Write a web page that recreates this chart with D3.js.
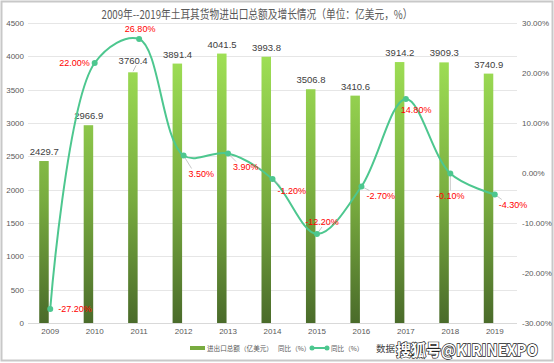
<!DOCTYPE html>
<html><head><meta charset="utf-8">
<script src="https://cdn.jsdelivr.net/npm/d3@7/dist/d3.min.js"></script>
<style>
body{margin:0;background:#fff;}
svg{display:block;font-family:"Noto Sans CJK SC","Liberation Sans",Arial,sans-serif;}
</style></head>
<body><svg id="c" width="554" height="363"></svg>
<script>
const years = ["2009","2010","2011","2012","2013","2014","2015","2016","2017","2018","2019"];
const totals = [2429.7,2966.9,3760.4,3891.4,4041.5,3993.8,3506.8,3410.6,3914.2,3909.3,3740.9];
const growth = [-27.2,22.0,26.8,3.5,3.9,-1.2,-12.2,-2.7,14.8,-0.1,-4.3];
const leftTicks = [0,500,1000,1500,2000,2500,3000,3500,4000,4500];
const rightTicks = [-30,-20,-10,0,10,20,30];
const title = "2009年--2019年土耳其货物进出口总额及增长情况（单位：亿美元，%）";
// label placement offsets (dx, dy, anchor, leader)
const pctLabelPos = [[8,3,"start",0],[-5,3,"end",0],[1,-7,"middle",0],[5,21,"start",1],[5,16,"start",1],[5,15,"start",1],[5,-9,"middle",1],[5,12,"start",1],[-5,14,"start",0],[0,25,"middle",1],[4,13,"start",1]];
const barLabelDy = [-6,-6,-8,-6,-6,-6,-6,-6,-6,-6,-6];

const svg = d3.select("#c");
const W = 554, H = 363;
const L = 28, R = 517, T = 23, B = 323;

svg.append("rect").attr("x",1.5).attr("y",1.5).attr("width",W-3).attr("height",H-4)
  .attr("fill","#fff").attr("stroke","#c8c8c8").attr("stroke-width",2);

const x = d3.scaleBand().domain(years).range([L,R]);
const y = d3.scaleLinear().domain([0,4500]).range([B,T]);
const y2 = d3.scaleLinear().domain([-30,30]).range([B,T]);

const defs = svg.append("defs");
const g = defs.append("linearGradient").attr("id","bg").attr("x1",0).attr("x2",0)
  .attr("gradientUnits","userSpaceOnUse").attr("y1",T+30).attr("y2",B);
g.append("stop").attr("offset","0%").attr("stop-color","#9fe055");
g.append("stop").attr("offset","55%").attr("stop-color","#78ab3f");
g.append("stop").attr("offset","100%").attr("stop-color","#4a6b2a");

svg.append("g").selectAll("line").data(leftTicks).join("line")
  .attr("x1",L).attr("x2",R).attr("y1",d=>Math.round(y(d))+0.5).attr("y2",d=>Math.round(y(d))+0.5)
  .attr("stroke",d=>d===0?"#d9d9d9":"#e6e6e6").attr("stroke-width",1);

const axisFont = "Liberation Sans, Arial";
const ya = d3.axisLeft(y).tickValues(leftTicks).tickSize(0).tickPadding(4).tickFormat(d3.format("d"));
svg.append("g").attr("transform",`translate(${L},0)`).call(ya)
  .call(s=>s.select(".domain").remove())
  .selectAll("text").attr("fill","#595959").attr("font-size",8).attr("font-family",axisFont);
const ya2 = d3.axisRight(y2).tickValues(rightTicks).tickSize(0).tickPadding(5).tickFormat(d=>d.toFixed(2)+"%");
svg.append("g").attr("transform",`translate(${R},0)`).call(ya2)
  .call(s=>s.select(".domain").remove())
  .selectAll("text").attr("fill","#595959").attr("font-size",8).attr("font-family",axisFont);
const xa = d3.axisBottom(x).tickSize(0).tickPadding(5);
svg.append("g").attr("transform",`translate(0,${B})`).call(xa)
  .call(s=>s.select(".domain").remove())
  .selectAll("text").attr("fill","#595959").attr("font-size",8).attr("font-family",axisFont);

const cx = d => x(d) + x.bandwidth()/2;
const bw = 9.5;
svg.append("g").selectAll("rect").data(years).join("rect")
  .attr("x",d=>cx(d)-11).attr("width",bw)
  .attr("y",(d,i)=>y(totals[i])).attr("height",(d,i)=>B-y(totals[i]))
  .attr("fill","url(#bg)");

svg.append("g").selectAll("text").data(years).join("text")
  .attr("x",d=>cx(d)-6).attr("y",(d,i)=>y(totals[i])+barLabelDy[i])
  .attr("text-anchor","middle").attr("font-size",9.5).attr("fill","#404040")
  .attr("font-family",axisFont)
  .text((d,i)=>totals[i].toFixed(1));
svg.append("line").attr("x1",cx("2011")-3).attr("y1",y(totals[2])-7).attr("x2",cx("2011")-6).attr("y2",y(totals[2])-1)
  .attr("stroke","#a6a6a6").attr("stroke-width",0.7);

const pts = years.map((d,i)=>[cx(d),y2(growth[i])]);
svg.append("path").attr("d",d3.line().curve(d3.curveCatmullRom.alpha(0.5))(pts))
  .attr("fill","none").attr("stroke","#4dc78f").attr("stroke-width",2);

svg.append("g").selectAll("line").data(pts.filter((p,i)=>pctLabelPos[i][3])).join("line")
  .attr("x1",p=>p[0]).attr("y1",p=>p[1])
  .attr("x2",p=>{const o=pctLabelPos[pts.indexOf(p)];return p[0]+o[0]+(o[2]==="middle"?0:3);})
  .attr("y2",p=>{const o=pctLabelPos[pts.indexOf(p)];return p[1]+o[1]+(o[1]>0?-8:2);})
  .attr("stroke","#b0b0b0").attr("stroke-width",0.7);

svg.append("g").selectAll("circle").data(pts).join("circle")
  .attr("cx",p=>p[0]).attr("cy",p=>p[1]).attr("r",3).attr("fill","#4dc78f");

svg.append("g").selectAll("text").data(years).join("text")
  .attr("x",(d,i)=>pts[i][0]+pctLabelPos[i][0]).attr("y",(d,i)=>pts[i][1]+pctLabelPos[i][1])
  .attr("text-anchor",(d,i)=>pctLabelPos[i][2])
  .attr("font-size",9).attr("fill","#ff0000").attr("font-family",axisFont)
  .text((d,i)=>growth[i].toFixed(2)+"%");

svg.append("text").attr("x",257).attr("y",19).attr("text-anchor","middle")
  .attr("font-size",12).attr("fill","#595959").attr("textLength",311).attr("lengthAdjust","spacingAndGlyphs")
  .text(title);

const lg = svg.append("g").attr("fill","#595959");
lg.append("rect").attr("x",190).attr("y",346).attr("width",15).attr("height",4).attr("fill","#78ab3f");
lg.append("text").attr("x",207).attr("y",351).attr("font-size",6.6).text("进出口总额（亿美元）");
lg.append("text").attr("x",278).attr("y",351).attr("font-size",6.6).text("同比（%）");
lg.append("line").attr("x1",311).attr("x2",328).attr("y1",348).attr("y2",348).attr("stroke","#4dc78f").attr("stroke-width",2);
lg.append("circle").attr("cx",312).attr("cy",348).attr("r",2.5).attr("fill","#4dc78f");
lg.append("circle").attr("cx",327).attr("cy",348).attr("r",2.5).attr("fill","#4dc78f");
lg.append("text").attr("x",331).attr("y",351).attr("font-size",6.6).text("同比（%）");
svg.append("text").attr("x",376).attr("y",352).attr("font-size",9.5).attr("fill","#404040").text("数据");

svg.append("text").attr("x",396).attr("y",356).attr("font-size",16).attr("font-weight","bold")
  .attr("fill","#fff").attr("stroke","#222").attr("stroke-width",1.4).attr("paint-order","stroke")
  .attr("textLength",142).attr("lengthAdjust","spacingAndGlyphs")
  .text("搜狐号@KIRINEXPO");
</script></body></html>
